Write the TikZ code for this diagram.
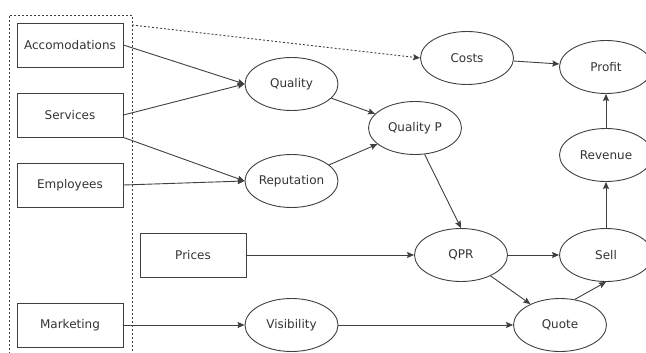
\documentclass[tikz,border=0pt]{standalone}
\usepackage{fontspec}
\setmainfont{DejaVu Sans}
\usetikzlibrary{arrows.meta,shapes.geometric}
\begin{document}
\begin{tikzpicture}[x=1pt,y=-1pt,
  every node/.style={font=\fontsize{12}{14}\selectfont, text=black!80},
  rbox/.style={draw=black!75, line width=0.9pt, minimum width=106pt, minimum height=44pt, inner sep=0pt},
  ell/.style={draw=black!75, line width=0.9pt, ellipse, minimum width=93pt, minimum height=53pt, inner sep=0pt},
  arr/.style={draw=black!75, line width=0.9pt, -{Stealth[length=7pt,width=6pt,inset=1pt]}},
  dsh/.style={draw=black!75, line width=0.9pt, dash pattern=on 2pt off 2pt}]
\useasboundingbox (0,0) rectangle (646,353);
% dashed frame
\coordinate (f1) at (9,354);
\coordinate (f2) at (9,15);
\coordinate (f3) at (132,15);
\coordinate (f4) at (132,354);
\coordinate (fd) at (132,25);
\draw[dsh] (f1) -- (f2) -- (f3) -- (f4);
% boxes
\node[rbox] (acc) at (70,45) {Accomodations};
\node[rbox] (ser) at (70,115) {Services};
\node[rbox] (emp) at (70,185) {Employees};
\node[rbox] (pri) at (193,255) {Prices};
\node[rbox] (mkt) at (70,325) {Marketing};
% ellipses
\node[ell] (qua) at (291.5,84) {Quality};
\node[ell] (rep) at (291.5,181) {Reputation};
\node[ell] (vis) at (291.5,325) {Visibility};
\node[ell] (qp) at (415,128) {Quality P};
\node[ell] (cos) at (467,58) {Costs};
\node[ell] (qpr) at (461,255) {QPR};
\node[ell] (quo) at (560,325) {Quote};
\node[ell] (pro) at (606,67) {Profit};
\node[ell] (rev) at (606,155) {Revenue};
\node[ell] (sel) at (606,255) {Sell};
% connectors
\draw[arr] (acc.east) -- (qua.west);
\draw[arr] (ser.east) -- (qua.west);
\draw[arr] (ser.south east) -- (rep.west);
\draw[arr] (emp.east) -- (rep.west);
\draw[arr] (mkt.east) -- (vis.west);
\draw[arr] (qua) -- (qp);
\draw[arr] (rep) -- (qp);
\draw[arr] (qp.-70) -- (qpr.north);
\draw[arr] (pri.east) -- (qpr.west);
\draw[arr] (qpr.east) -- (sel.west);
\draw[arr] (qpr) -- (quo);
\draw[arr] (vis.east) -- (quo.west);
\draw[arr] (quo.60) -- (sel.south);
\draw[arr] (sel.north) -- (rev.south);
\draw[arr] (rev.north) -- (pro.south);
\draw[arr] (cos) -- (pro);
\draw[dsh, -{Stealth[length=7pt,width=6pt,inset=1pt]}] (fd) -- (cos.west);
\end{tikzpicture}
\end{document}
